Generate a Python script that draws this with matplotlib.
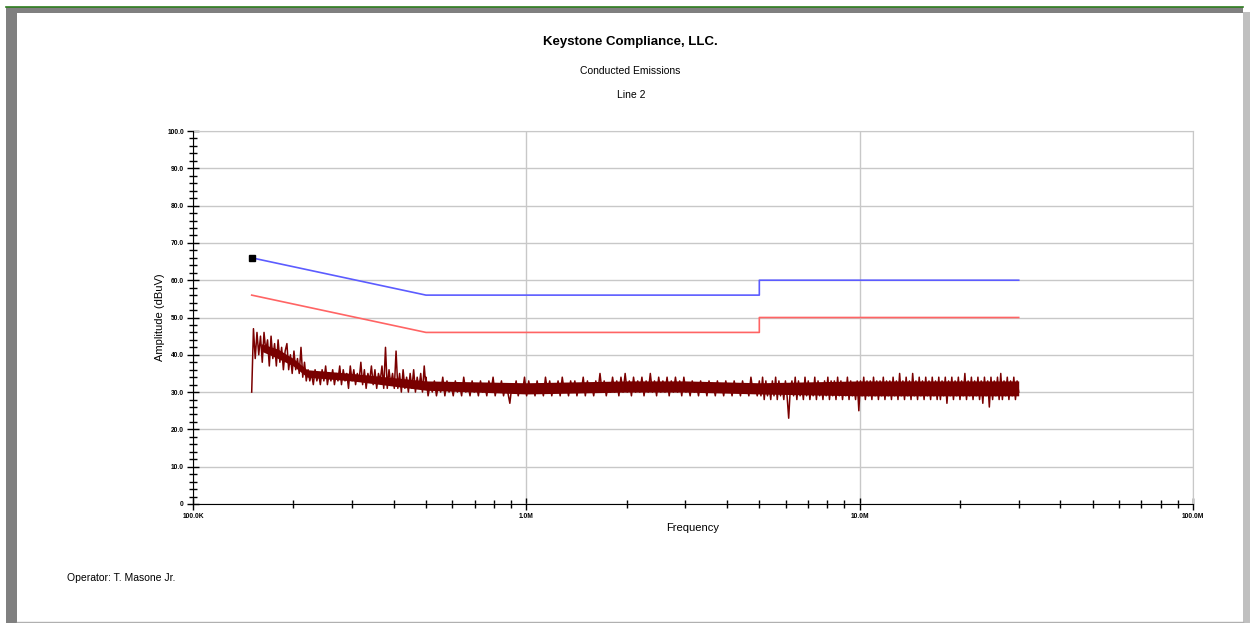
import numpy as np
import matplotlib.pyplot as plt
from matplotlib.patches import Rectangle
from matplotlib.lines import Line2D
from matplotlib.ticker import FixedLocator, FixedFormatter, MultipleLocator, NullFormatter

plt.rcParams['font.family'] = ['Liberation Sans', 'DejaVu Sans']

# limit lines (MHz, dBuV)
qp_freq = [0.15, 0.5, 5.0, 5.0, 30.0]
qp_limit = [66, 56, 56, 60, 60]
avg_freq = [0.15, 0.5, 5.0, 5.0, 30.0]
avg_limit = [56, 46, 46, 50, 50]

marker_freq = [0.15]
marker_db = [66]

# scan trace in three sweep bands
band_a = (0.15, 0.5)
trace_a = [30,
           47, 39, 46, 40, 45, 38, 46, 41, 44, 37,
           45, 39, 43, 37, 44, 38, 42, 36, 41, 43,
           36, 40, 35, 41, 36, 39, 35, 42, 34, 38,
           33, 36, 33, 35, 32, 36, 33, 35, 32, 36,
           33, 37, 32, 35, 33, 36, 32, 35, 33, 37,
           32, 36, 33, 35, 31, 37, 33, 36, 32, 35,
           33, 38, 32, 36, 31, 35, 33, 37, 32, 36,
           31, 35, 33, 37, 31, 42, 31, 36, 32, 35,
           31, 41, 31, 35, 30, 36, 31, 34, 30, 35,
           31, 36, 30, 34, 31, 35, 30, 37, 31]

band_b = (0.5, 5.0)
trace_b = [34, 29, 32, 30, 33, 29, 32, 30, 34, 29,
           33, 30, 32, 29, 33, 30, 32, 29, 34, 30,
           32, 29, 33, 30, 32, 29, 33, 30, 32, 29,
           33, 30, 34, 29, 32, 30, 33, 29, 32, 30,
           27, 32, 30, 33, 29, 32, 30, 34, 29, 33,
           30, 32, 29, 33, 30, 32, 29, 34, 30, 33,
           29, 32, 30, 33, 29, 34, 30, 32, 29, 33,
           30, 33, 29, 32, 30, 34, 29, 33, 30, 32,
           29, 33, 30, 35, 30, 33, 29, 32, 30, 34,
           30, 33, 29, 34, 30, 35, 30, 33, 29, 34,
           30, 33, 30, 34, 29, 33, 30, 35, 30, 33,
           29, 34, 30, 33, 30, 34, 29, 33, 30, 34,
           30, 33, 29, 34, 30, 32, 29, 33, 30, 32,
           29, 33, 30, 32, 29, 33, 30, 32, 29, 33,
           30, 32, 29, 33, 30, 32, 29, 33, 30, 32,
           29, 33, 30, 32, 29, 34, 30, 32, 29, 33]

band_c = (5.0, 30.0)
trace_c = [33, 29, 34, 28, 33, 29, 32, 28, 33, 29,
           34, 28, 33, 29, 32, 28, 33, 29, 23, 31,
           33, 29, 34, 28, 33, 29, 32, 28, 34, 29,
           33, 28, 32, 29, 34, 28, 33, 29, 32, 28,
           33, 29, 34, 28, 33, 29, 33, 28, 34, 29,
           33, 28, 32, 29, 34, 28, 33, 29, 32, 28,
           33, 25, 33, 29, 34, 28, 33, 29, 33, 28,
           34, 29, 33, 28, 33, 29, 34, 28, 33, 29,
           33, 28, 34, 29, 33, 28, 35, 29, 33, 28,
           34, 29, 33, 28, 35, 29, 33, 28, 34, 29,
           33, 28, 34, 29, 33, 28, 34, 29, 33, 28,
           34, 28, 33, 29, 34, 27, 33, 29, 34, 28,
           33, 29, 34, 28, 33, 29, 35, 28, 33, 29,
           34, 28, 33, 29, 34, 28, 33, 27, 34, 29,
           33, 26, 34, 28, 33, 29, 34, 28, 35, 28,
           33, 29, 34, 28, 33, 29, 34, 28, 33, 30]

# solid core of the trace where the sweep is dense
core_freq = [0.16, 0.18, 0.2, 0.22, 0.3, 0.5, 1.0, 2.0, 3.0, 5.0, 10.0, 20.0, 30.0]
core_lo = [41.0, 39.0, 37.0, 34.0, 33.0, 30.5, 29.5, 30.0, 30.0, 29.5, 29.0, 29.0, 29.0]
core_hi = [43.0, 41.5, 39.0, 36.0, 35.0, 33.0, 32.5, 33.0, 33.0, 32.5, 33.0, 33.0, 33.0]

x_ticks = [0.1, 1.0, 10.0, 100.0]
x_labels = ['100.0K', '1.0M', '10.0M', '100.0M']
y_ticks = [0, 10, 20, 30, 40, 50, 60, 70, 80, 90, 100]
y_labels = ['0', '10.0', '20.0', '30.0', '40.0', '50.0', '60.0', '70.0', '80.0', '90.0', '100.0']

fig = plt.figure(figsize=(12.5, 6.23), dpi=100)
fig.patch.set_facecolor('white')

# window frame
W, H = 1250.0, 623.0
fig.add_artist(Rectangle((6 / W, 0), 11 / W, 1 - 7 / H, transform=fig.transFigure,
                         color='#808080', lw=0))
fig.add_artist(Rectangle((6 / W, 1 - 13 / H), 1237 / W, 6 / H, transform=fig.transFigure,
                         color='#808080', lw=0))
fig.add_artist(Rectangle((1243 / W, 0), 7 / W, 1 - 12 / H, transform=fig.transFigure,
                         color='#c0c0c0', lw=0))
fig.add_artist(Line2D([6 / W, 1243 / W], [1 - 7 / H, 1 - 7 / H], transform=fig.transFigure,
                      color='#2e7d1e', lw=1.2))
fig.add_artist(Line2D([17 / W, 1243 / W], [1.5 / H, 1.5 / H], transform=fig.transFigure,
                      color='#b0b0b0', lw=1))

ax = fig.add_axes([193 / W, 119 / H, 1000 / W, 373 / H])

ax.fill_between(core_freq, core_lo, core_hi, color='#780000', lw=0, zorder=3)
freqs = np.concatenate([np.geomspace(band_a[0], band_a[1], len(trace_a)),
                        np.geomspace(band_b[0], band_b[1], len(trace_b)),
                        np.geomspace(band_c[0], band_c[1], len(trace_c))])
levels = np.concatenate([trace_a, trace_b, trace_c])
ax.plot(freqs, levels, color='#7a0000', lw=1.1, zorder=3)

ax.plot(qp_freq, qp_limit, color='#5c5cff', lw=1.2, zorder=4)
ax.plot(avg_freq, avg_limit, color='#ff6464', lw=1.2, zorder=4)
ax.plot(marker_freq, marker_db, marker='s', ms=4, color='black', mec='black', zorder=5)

ax.set_xscale('log')
ax.set_xlim(0.1, 100)
ax.set_ylim(0, 100)

ax.xaxis.set_major_locator(FixedLocator(x_ticks))
ax.xaxis.set_major_formatter(FixedFormatter(x_labels))
ax.xaxis.set_minor_locator(FixedLocator([m * d for d in [0.1, 1.0, 10.0] for m in range(2, 10)]))
ax.xaxis.set_minor_formatter(NullFormatter())
ax.yaxis.set_major_locator(FixedLocator(y_ticks))
ax.yaxis.set_major_formatter(FixedFormatter(y_labels))
ax.yaxis.set_minor_locator(MultipleLocator(2))

ax.tick_params(which='major', direction='inout', length=9, width=1, color='black',
               labelsize=4.8, pad=2)
ax.tick_params(which='minor', direction='inout', length=6, width=1, color='black')
for lbl in ax.get_xticklabels() + ax.get_yticklabels():
    lbl.set_fontweight('bold')

ax.grid(which='major', color='#c8c8c8', lw=1, zorder=0)
ax.set_axisbelow(True)
for side in ['top', 'right']:
    ax.spines[side].set_color('#c8c8c8')
for side in ['left', 'bottom']:
    ax.spines[side].set_color('black')
    ax.spines[side].set_zorder(6)

ax.set_xlabel('Frequency', fontsize=8, labelpad=2)
ax.set_ylabel('Amplitude (dBuV)', fontsize=8, labelpad=1.5)

fig.text(630 / W, 1 - 42 / H, 'Keystone Compliance, LLC.', fontsize=9.5, fontweight='bold',
         ha='center', va='center')
fig.text(630 / W, 1 - 71 / H, 'Conducted Emissions', fontsize=7.5, ha='center', va='center')
fig.text(631 / W, 1 - 95 / H, 'Line 2', fontsize=7.5, ha='center', va='center')
fig.text(67 / W, 1 - 578 / H, 'Operator: T. Masone Jr.', fontsize=7.5, ha='left', va='center')

fig.savefig('out.png', dpi=100, facecolor='white')
